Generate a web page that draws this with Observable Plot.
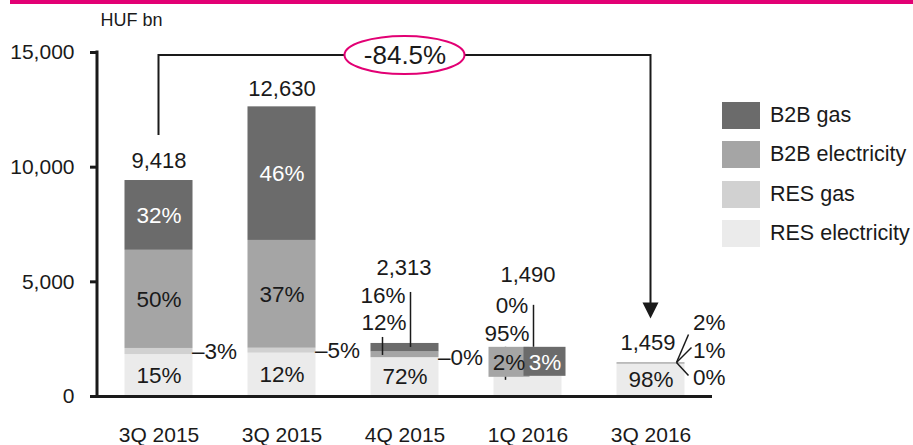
<!DOCTYPE html>
<html>
<head>
<meta charset="utf-8">
<script src="https://cdn.jsdelivr.net/npm/d3@7"></script>
<script src="https://cdn.jsdelivr.net/npm/@observablehq/plot@0.6"></script>
<style>
  html, body { margin: 0; padding: 0; background: #fff; }
  #wrap { position: relative; width: 913px; height: 445px; overflow: hidden;
          font-family: "Liberation Sans", Arial, sans-serif; color: #1a1a1a; }
  #topline { position: absolute; left: 10px; top: 0; width: 903px; height: 4px; background: #e20074; }
  #chart { position: absolute; left: 0; top: 0; }
  #legend { position: absolute; left: 722px; top: 102px; }
  .item { display: flex; align-items: center; height: 27px; margin-bottom: 12.3px; font-size: 21.5px; white-space: nowrap; }
  .sw { width: 38px; height: 27px; margin-right: 10px; flex: none; }
</style>
</head>
<body>
<div id="wrap">
  <div id="chart"></div>
  <div id="topline"></div>
  <div id="legend"></div>
</div>
<script>
// ---------- data ----------
const quarters = ["3Q 2015", "3Q 2015", "4Q 2015", "1Q 2016", "3Q 2016"];
const totals = [9418, 12630, 2313, 1490, 1459];
const seriesNames = ["RES electricity", "RES gas", "B2B electricity", "B2B gas"];
const seriesColors = ["#ebebeb", "#d1d1d1", "#a5a5a5", "#6b6b6b"];
const resElectricity = [1830, 1890, 1690, 1415, 1415];
const resGas = [265, 215, 5, 0, 0];
const b2bElectricity = [4280, 4700, 250, 30, 15];
const b2bGas = [3043, 5825, 368, 45, 29];
const resElectricityPct = ["15%", "12%", "72%", "95%", "98%"];
const resGasPct = ["3%", "5%", "0%", "0%", "0%"];
const b2bElectricityPct = ["50%", "37%", "12%", "2%", "1%"];
const b2bGasPct = ["32%", "46%", "16%", "3%", "2%"];
const changeLabel = "-84.5%";
const unitLabel = "HUF bn";
const yTicks = [0, 5000, 10000, 15000];

// ---------- layout / style ----------
const FONT = '"Liberation Sans", Arial, sans-serif';
const INK = "#1a1a1a";
const MAGENTA = "#e20074";
const PCT_SIZE = 22.5, TOTAL_SIZE = 22;
const W = 913, H = 445, mL = 97, mR = 201, mT = 52, mB = 49;
const padIn = 0.447, padOut = 0.2235;
const idx = d3.range(quarters.length);
const step = (W - mL - mR) / (idx.length - padIn + 2 * padOut);
const bw = step * (1 - padIn);

const valueArrays = [resElectricity, resGas, b2bElectricity, b2bGas];
const pctArrays = [resElectricityPct, resGasPct, b2bElectricityPct, b2bGasPct];
const rows = seriesNames.flatMap((s, k) =>
  idx.map(i => ({q: i, series: s, value: valueArrays[k][i], pct: pctArrays[k][i]})));

// how each segment's label is drawn: "in" = centred, "side" = dash label at right
const labelMode = {
  "RES electricity": ["in", "in", "in", null, "in"],
  "RES gas": ["side", "side", "side", null, null],
  "B2B electricity": ["in", "in", null, null, null],
  "B2B gas": ["in", "in", null, null, null]
};
const mode = d => labelMode[d.series][d.q];

// offsets of total labels relative to bar top
const totalOffsets = [[0, -20], [0, -18], [-1, -76], [0, -87], [-3, -20]];
// extra annotations, relative to (bar centre, bar top)
const notes = [
  {q: 2, text: b2bGasPct[2], dx: -22, dy: -48, anchor: "middle", fill: INK},
  {q: 2, text: b2bElectricityPct[2], dx: -21, dy: -21, anchor: "middle", fill: INK},
  {q: 3, text: resGasPct[3], dx: -16, dy: -57, anchor: "middle", fill: INK},
  {q: 3, text: resElectricityPct[3], dx: -21, dy: -29, anchor: "middle", fill: INK},
  {q: 3, text: b2bElectricityPct[3], dx: -19, dy: 0, anchor: "middle", fill: INK},
  {q: 3, text: b2bGasPct[3], dx: 17, dy: 0, anchor: "middle", fill: "#fff"},
  {q: 4, text: b2bGasPct[4], dx: 42, dy: -40, anchor: "start", fill: INK},
  {q: 4, text: b2bElectricityPct[4], dx: 42, dy: -12, anchor: "start", fill: INK},
  {q: 4, text: resGasPct[4], dx: 42, dy: 15, anchor: "start", fill: INK}
];

function guides(index, scales, values, dims) {
  const {x, y} = scales;
  const b = x.bandwidth ? x.bandwidth() : 0;
  const cx = i => x(i) + b / 2;
  const ty = i => y(totals[i]);
  const col = s => scales.color ? scales.color(s) : seriesColors[seriesNames.indexOf(s)];
  const g = d3.create("svg:g").attr("stroke", INK).attr("fill", "none");
  const seg = (x1, y1, x2, y2, w) => g.append("line")
    .attr("x1", x1).attr("y1", y1).attr("x2", x2).attr("y2", y2).attr("stroke-width", w);
  // y-axis spine
  seg(dims.marginLeft, y(0) + 1.5, dims.marginLeft, y(d3.max(yTicks)) - 1.5, 3);
  // bracket with arrow
  const top = dims.marginTop + 3;
  g.append("path").attr("stroke-width", 2)
    .attr("d", `M${cx(0)},${ty(0) - 45}V${top}H${cx(4)}V${ty(4) - 59}`);
  g.append("path").attr("fill", INK).attr("stroke", "none")
    .attr("d", `M${cx(4) - 8},${ty(4) - 60}H${cx(4) + 8}L${cx(4)},${ty(4) - 44}Z`);
  g.append("ellipse").attr("cx", cx(2)).attr("cy", top).attr("rx", 60).attr("ry", 19)
    .attr("fill", "#fff").attr("stroke", MAGENTA).attr("stroke-width", 2);
  // 4Q 2015 leaders
  seg(cx(2) + 6, ty(2) - 51, cx(2) + 6, ty(2) + 4, 1.5);
  seg(cx(2) - 22, ty(2) - 6, cx(2) - 22, ty(2) + 12, 1.5);
  // 1Q 2016 leaders and label boxes
  seg(cx(3) + 6, ty(3) - 57, cx(3) + 6, ty(3) - 15, 1.5);
  seg(cx(3) - 22, ty(3) - 15, cx(3) - 22, ty(3) + 18, 1.5);
  g.append("rect").attr("stroke", "none").attr("fill", col("B2B electricity"))
    .attr("x", cx(3) - 39).attr("y", ty(3) - 15).attr("width", 41).attr("height", 30);
  g.append("rect").attr("stroke", "none").attr("fill", col("B2B gas"))
    .attr("x", cx(3) - 4).attr("y", ty(3) - 15).attr("width", 42).attr("height", 29);
  // 3Q 2016 fan
  const ox = cx(4) + 26, oy = ty(4);
  seg(ox, oy, cx(4) + 38, oy - 28, 1.5);
  seg(ox, oy, cx(4) + 41, oy - 15, 1.5);
  seg(ox, oy, cx(4) + 38, oy + 13, 1.5);
  return g.node();
}

const stackOpts = {x: "q", y: "value", z: "series"};

const chart = Plot.plot({
  width: W, height: H,
  marginLeft: mL, marginRight: mR, marginTop: mT, marginBottom: mB,
  style: {fontFamily: FONT, fontSize: "21px", color: INK, background: "transparent", overflow: "visible"},
  x: {type: "band", domain: idx, paddingInner: padIn, paddingOuter: padOut, round: false},
  y: {domain: [0, 15000]},
  color: {domain: seriesNames, range: seriesColors},
  marks: [
    Plot.barY(rows, Plot.stackY({...stackOpts, fill: "series"})),
    Plot.ruleY([0], {stroke: INK, strokeWidth: 3}),
    Plot.axisY({ticks: yTicks, tickFormat: d3.format(","), tickSize: 7, tickPadding: 16,
                strokeWidth: 3, stroke: INK, label: null}),
    Plot.axisX({tickSize: 0, tickPadding: 31, tickFormat: i => quarters[i], label: null}),
    guides,
    Plot.text(rows, Plot.stackY({...stackOpts, fontSize: PCT_SIZE,
      text: d => mode(d) === "in" && d.series !== "B2B gas" ? d.pct : null, fill: INK})),
    Plot.text(rows, Plot.stackY({...stackOpts, fontSize: PCT_SIZE,
      text: d => mode(d) === "in" && d.series === "B2B gas" ? d.pct : null, fill: "#fff"})),
    Plot.text(rows, Plot.stackY({...stackOpts, fontSize: PCT_SIZE,
      text: d => mode(d) === "side" ? "\u2013" + d.pct : null, fill: INK,
      textAnchor: "start", dx: bw / 2 - 1})),
    ...idx.map(i => Plot.text([i], {x: d => d, y: d => totals[d], text: d => d3.format(",")(totals[d]),
      dx: totalOffsets[i][0], dy: totalOffsets[i][1], fill: INK, fontSize: TOTAL_SIZE})),
    ...notes.map(n => Plot.text([n], {x: "q", y: d => totals[d.q], text: "text", fontSize: PCT_SIZE,
      dx: n.dx, dy: n.dy, textAnchor: n.anchor, fill: n.fill})),
    Plot.text([changeLabel], {x: () => 2, frameAnchor: "top", dy: 3, lineAnchor: "middle",
      text: d => d, fill: INK, fontSize: 26}),
    Plot.text([unitLabel], {frameAnchor: "top-left", dx: 3, dy: -32, lineAnchor: "middle",
      textAnchor: "start", text: d => d, fill: INK, fontSize: 18})
  ]
});
document.getElementById("chart").appendChild(chart);

// legend (top = last stacked series)
const legend = d3.select("#legend");
seriesNames.slice().reverse().forEach(s => {
  const item = legend.append("div").attr("class", "item");
  item.append("div").attr("class", "sw").style("background", seriesColors[seriesNames.indexOf(s)]);
  item.append("span").text(s);
});
</script>
</body>
</html>
